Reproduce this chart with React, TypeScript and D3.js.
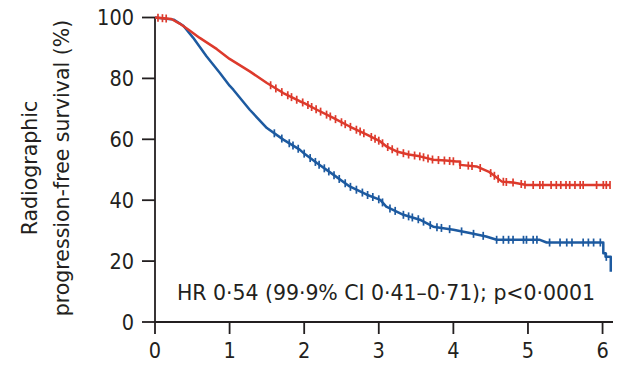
import React from "react";
import * as d3 from "d3";

// ---- data ----
const redTimes = [0, 0.22, 0.33, 0.45, 0.6, 0.83, 1.0, 1.27, 1.5, 1.72, 1.94, 2.0, 2.17, 2.39, 2.61, 2.84, 3.02, 3.1, 3.24, 3.4, 3.55, 3.73, 3.9, 4.04, 4.09, 4.09, 4.31, 4.47, 4.53, 4.65, 4.8, 4.98, 6.1];
const redValues = [100, 99.5, 98, 96, 93.3, 89.6, 86.4, 82.3, 78.5, 75.2, 72.5, 71.9, 69.7, 67, 64.2, 61.5, 59.3, 57.7, 56, 55, 54.4, 53.3, 53, 52.7, 52.7, 51.6, 51.1, 49.4, 48.4, 46.1, 45.8, 45, 45];

const blueTimes = [0, 0.25, 0.38, 0.51, 0.69, 0.87, 1.0, 1.05, 1.27, 1.5, 1.72, 1.94, 2.0, 2.17, 2.39, 2.61, 2.84, 3.02, 3.1, 3.33, 3.55, 3.73, 4.0, 4.22, 4.44, 4.58, 5.16, 5.25, 6.01, 6.01, 6.04, 6.04, 6.11, 6.11];
const blueValues = [100, 99.3, 97.3, 93.4, 87.3, 81.8, 77.6, 76.3, 69.7, 63.7, 59.9, 56.6, 55.3, 52.2, 48.4, 44.5, 41.8, 40.1, 37.9, 35.2, 33.6, 31.3, 30.3, 29.2, 28.1, 27, 27, 26.1, 26.1, 22.6, 22.6, 21.4, 21.4, 16.5];

const redCensors = [0.04, 0.1, 0.15, 1.55, 1.62, 1.7, 1.78, 1.83, 1.9, 1.98, 2.05, 2.1, 2.16, 2.22, 2.3, 2.35, 2.42, 2.5, 2.55, 2.62, 2.7, 2.75, 2.8, 2.9, 2.95, 3.0, 3.05, 3.12, 3.18, 3.25, 3.33, 3.4, 3.48, 3.55, 3.6, 3.66, 3.72, 3.8, 3.88, 3.95, 4.0, 4.09, 4.2, 4.25, 4.36, 4.5, 4.55, 4.6, 4.67, 4.71, 4.8, 4.91, 4.96, 5.07, 5.16, 5.2, 5.31, 5.38, 5.44, 5.51, 5.56, 5.63, 5.7, 5.74, 5.92, 6.01, 6.05, 6.1];
const blueCensors = [1.6, 1.7, 1.8, 1.85, 1.92, 2.0, 2.08, 2.15, 2.2, 2.27, 2.33, 2.4, 2.47, 2.55, 2.62, 2.7, 2.78, 2.85, 2.92, 3.0, 3.05, 3.15, 3.22, 3.33, 3.4, 3.45, 3.53, 3.6, 3.69, 3.78, 3.84, 3.95, 4.11, 4.27, 4.4, 4.58, 4.67, 4.74, 4.8, 4.94, 4.98, 5.07, 5.12, 5.29, 5.43, 5.52, 5.59, 5.74, 5.81, 5.88, 5.97, 6.05];

const xTicks = [0, 1, 2, 3, 4, 5, 6];
const yTicks = [0, 20, 40, 60, 80, 100];
const yTitleLines = ["Radiographic", "progression-free survival (%)"];
const hrText = "HR 0·54 (99·9% CI 0·41–0·71); p<0·0001";

const RED = "#dd3a2c";
const BLUE = "#1d5aa0";
const INK = "#231f20";
const FONT_C = "'DejaVu Sans Condensed', 'DejaVu Sans', sans-serif";
const FONT = "'DejaVu Sans', sans-serif";

export default function App() {
  const x = d3.scaleLinear().domain([0, 6.14]).range([155, 613]);
  const y = d3.scaleLinear().domain([0, 100]).range([322, 17.5]);

  const mk = (ts: number[], vs: number[]) => ts.map((t, i) => [t, vs[i]] as [number, number]);
  const red = mk(redTimes, redValues);
  const blue = mk(blueTimes, blueValues);
  const line = d3
    .line<[number, number]>()
    .x((d) => x(d[0]))
    .y((d) => y(d[1]))
    .curve(d3.curveLinear);

  const valueAt = (pts: [number, number][], t: number) => {
    for (let i = pts.length - 1; i >= 0; i--) {
      if (pts[i][0] <= t) {
        const a = pts[i];
        const b = pts[i + 1];
        if (!b || b[0] === a[0]) return a[1];
        return a[1] + ((b[1] - a[1]) * (t - a[0])) / (b[0] - a[0]);
      }
    }
    return pts[0][1];
  };

  const censorMarks = (pts: [number, number][], cs: number[], color: string) =>
    cs.map((t, i) => {
      const cx = x(t);
      const cy = y(valueAt(pts, t));
      return <line key={i} x1={cx} x2={cx} y1={cy - 4} y2={cy + 4} stroke={color} strokeWidth={1.7} />;
    });

  return (
    <svg width={625} height={368} style={{ position: "absolute", left: 0, top: 0, background: "#fff" }} fontFamily={FONT_C}>
      {/* y-axis title */}
      {yTitleLines.map((s, i) => (
        <text
          key={s}
          transform={`translate(${37 + i * 32},168) rotate(-90)`}
          textAnchor="middle"
          fontSize={20.5}
          fontFamily={FONT}
          fill={INK}
        >
          {s}
        </text>
      ))}

      {/* axes */}
      <line x1={x(0)} x2={x(0)} y1={y(0)} y2={y(100)} stroke={INK} strokeWidth={1.8} />
      <line x1={x(0)} x2={x(6.14)} y1={y(0)} y2={y(0)} stroke={INK} strokeWidth={1.8} />
      {yTicks.map((v) => (
        <g key={v}>
          <line x1={x(0) - 13} x2={x(0)} y1={y(v)} y2={y(v)} stroke={INK} strokeWidth={1.8} />
          <text x={x(0) - 21} y={y(v)} dy="0.36em" textAnchor="end" fontSize={21.5} fill={INK}>
            {v}
          </text>
        </g>
      ))}
      {xTicks.map((t) => (
        <g key={t}>
          <line x1={x(t)} x2={x(t)} y1={y(0)} y2={y(0) + 12} stroke={INK} strokeWidth={1.8} />
          <text x={x(t)} y={358} textAnchor="middle" fontSize={21.5} fill={INK}>
            {t}
          </text>
        </g>
      ))}

      {/* curves */}
      <path d={line(blue) || ""} fill="none" stroke={BLUE} strokeWidth={2.5} strokeLinejoin="round" />
      {censorMarks(blue, blueCensors, BLUE)}
      <path d={line(red) || ""} fill="none" stroke={RED} strokeWidth={2.5} strokeLinejoin="round" />
      {censorMarks(red, redCensors, RED)}

      {/* annotation */}
      <text x={177} y={300} fontSize={20.5} fontFamily={FONT} fill={INK} textLength={418}>
        {hrText}
      </text>
    </svg>
  );
}
